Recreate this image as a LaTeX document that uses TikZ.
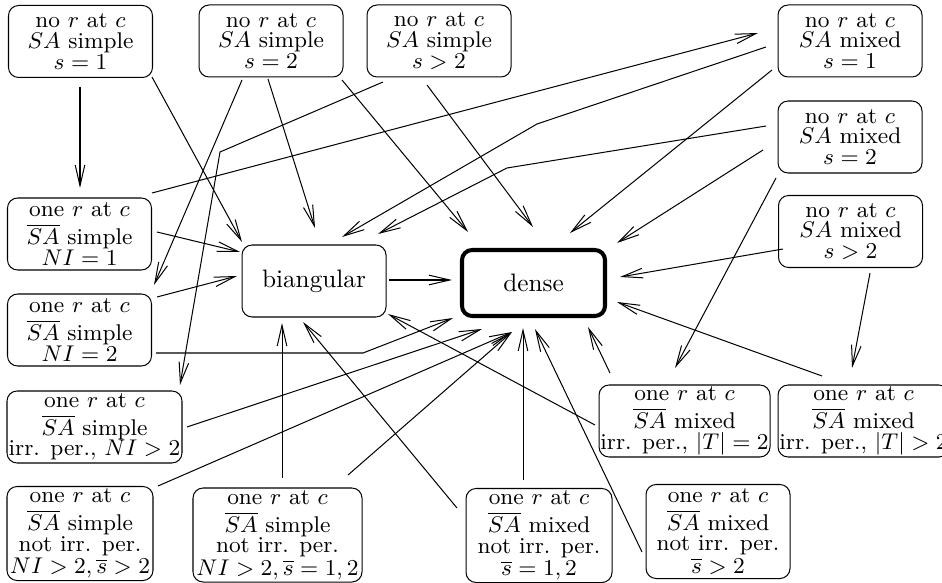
\documentclass[tikz,border=0pt]{standalone}
\usetikzlibrary{arrows.meta}
\newlength{\pxl}
\setlength{\pxl}{0.396pt}
\tikzset{
  box/.style={draw, rounded corners=4pt, align=center, inner sep=0pt,
    font=\fontsize{9}{8.2}\selectfont,
    minimum width=144*\pxl, minimum height=72*\pxl},
  tallbox/.style={box, minimum height=94*\pxl},
  mainbox/.style={draw, rounded corners=4pt, inner sep=0pt,
    font=\fontsize{10}{12}\selectfont,
    minimum width=144*\pxl, minimum height=72*\pxl},
  arr/.style={-{Straight Barb[length=8.2pt,width=3.8pt]}},
}
% first line of a box whose second line carries a bar
\newcommand{\onerc}{one $r$ at $c$\\[1.7pt]}
\begin{document}
\begin{tikzpicture}[x=0.396pt, y=-0.396pt]
\useasboundingbox (0,0) rectangle (942,583);
\fill[white] (0,0) rectangle (942,583);
\clip (0,0) rectangle (942,583);

% no r at c, SA simple
\node[box] (A1) at (80.5,41.5) {no $r$ at $c$\\$SA$ simple\\$s=1$};
\node[box] (A2) at (271,41) {no $r$ at $c$\\$SA$ simple\\$s=2$};
\node[box] (A3) at (439,41) {no $r$ at $c$\\$SA$ simple\\$s>2$};
% no r at c, SA mixed
\node[box] (B1) at (850,41) {no $r$ at $c$\\$SA$ mixed\\$s=1$};
\node[box] (B2) at (850,137) {no $r$ at $c$\\$SA$ mixed\\$s=2$};
\node[box] (B3) at (850.5,231.5) {no $r$ at $c$\\$SA$ mixed\\$s>2$};
% one r at c, SA-bar simple
\node[box] (C1) at (79.5,234) {\onerc$\overline{SA}$ simple\\$NI=1$};
\node[box] (C2) at (79.5,330) {\onerc$\overline{SA}$ simple\\$NI=2$};
\node[box, minimum width=175*\pxl] (C3) at (94.5,427) {\onerc$\overline{SA}$ simple\\irr. per., $NI>2$};
\node[tallbox, minimum width=146*\pxl] (D1) at (80,533.5) {\onerc$\overline{SA}$ simple\\not irr. per.\\[0.6pt]$NI>2,\overline{s}>2$};
\node[tallbox, minimum width=169*\pxl] (D2) at (277.5,535) {\onerc$\overline{SA}$ simple\\not irr. per.\\[0.6pt]$NI>2,\overline{s}=1,2$};
% one r at c, SA-bar mixed
\node[tallbox, minimum width=146*\pxl] (D3) at (539,535.5) {\onerc$\overline{SA}$ mixed\\not irr. per.\\[0.6pt]$\overline{s}=1,2$};
\node[tallbox] (D4) at (718,531.5) {\onerc$\overline{SA}$ mixed\\not irr. per.\\[0.6pt]$\overline{s}>2$};
\node[box, minimum width=171*\pxl] (E1) at (684.5,421) {\onerc$\overline{SA}$ mixed\\irr. per., $|T|=2$};
\node[box, minimum width=171*\pxl] (E2) at (863.5,421) {\onerc$\overline{SA}$ mixed\\irr. per., $|T|>2$};
% targets
\node[mainbox] (BI) at (314,281) {biangular};
\node[mainbox, ultra thick, minimum width=143*\pxl, minimum height=66*\pxl] (DE) at (533.5,283) {dense};

% bend points
\coordinate (k1) at (220,152);
\coordinate (k2) at (537,124);
\coordinate (k3) at (507,168);
\coordinate (k4) at (363,353);

% connectors
\draw[arr] ([shift={(-0.5,45.5)}]A1.center) -- ([shift={(0.5,-46)}]C1.center);
\draw[arr] ([shift={(71.5,35.5)}]A1.center) -- ([shift={(-72,-39)}]BI.center);
\draw[arr] ([shift={(-29,39)}]A2.center) -- ([shift={(74.5,-45)}]C2.center);
\draw[arr] ([shift={(-3,38)}]A2.center) -- ([shift={(1,-53)}]BI.center);
\draw[arr] ([shift={(71,39)}]A2.center) -- ([shift={(-65.5,-51)}]DE.center);
\draw[arr] ([shift={(-56,41)}]A3.center) -- (k1) -- ([shift={(85.5,-42)}]C3.center);
\draw[arr] ([shift={(-12,44)}]A3.center) -- ([shift={(-0.5,-56)}]DE.center);
\draw[arr] ([shift={(72.5,-41)}]C1.center) -- ([shift={(-92,-8)}]B1.center);
\draw[arr] ([shift={(-84,6)}]B1.center) -- (k2) -- ([shift={(28,-44)}]BI.center);
\draw[arr] ([shift={(-78,29)}]B1.center) -- ([shift={(36.5,-50)}]DE.center);
\draw[arr] ([shift={(-84,-11)}]B2.center) -- (k3) -- ([shift={(64,-47)}]BI.center);
\draw[arr] ([shift={(-87,13)}]B2.center) -- ([shift={(83.5,-40)}]DE.center);
\draw[arr] ([shift={(-74,41)}]B2.center) -- ([shift={(-9.5,-53)}]E1.center);
\draw[arr] ([shift={(-67.5,17.5)}]B3.center) -- ([shift={(86.5,-6)}]DE.center);
\draw[arr] ([shift={(19.5,41.5)}]B3.center) -- ([shift={(-11.5,-53)}]E2.center);
\draw[arr] ([shift={(-41.5,-45)}]E2.center) -- ([shift={(83.5,19)}]DE.center);
\draw[arr] ([shift={(-74.5,-48)}]E1.center) -- ([shift={(54.5,44)}]DE.center);
\draw[arr] ([shift={(-89.5,4)}]E1.center) -- ([shift={(74,33)}]BI.center);
\draw[arr] ([shift={(-76,20.5)}]D4.center) -- ([shift={(1.5,46)}]DE.center);
\draw[arr] ([shift={(-16,-55.5)}]D3.center) -- ([shift={(-10.5,45)}]DE.center);
\draw[arr] ([shift={(-82,-27.5)}]D3.center) -- ([shift={(-11,41)}]BI.center);
\draw[arr] ([shift={(70.5,-60)}]D2.center) -- ([shift={(-21.5,49)}]DE.center);
\draw[arr] ([shift={(4.5,-57)}]D2.center) -- ([shift={(-32,42)}]BI.center);
\draw[arr] ([shift={(78,-47.5)}]D1.center) -- ([shift={(-21.5,49)}]DE.center);
\draw[arr] ([shift={(92.5,0)}]C3.center) -- ([shift={(-51.5,46)}]DE.center);
\draw[arr] ([shift={(76.5,23)}]C2.center) -- (k4) -- ([shift={(-80.5,35)}]DE.center);
\draw[arr] ([shift={(77.5,-33)}]C2.center) -- ([shift={(-77,-5)}]BI.center);
\draw[arr] ([shift={(77.5,-2)}]C1.center) -- ([shift={(-74,-29)}]BI.center);
\draw[arr] ([shift={(75,-1)}]BI.center) -- ([shift={(-81.5,-3)}]DE.center);
\end{tikzpicture}
\end{document}
